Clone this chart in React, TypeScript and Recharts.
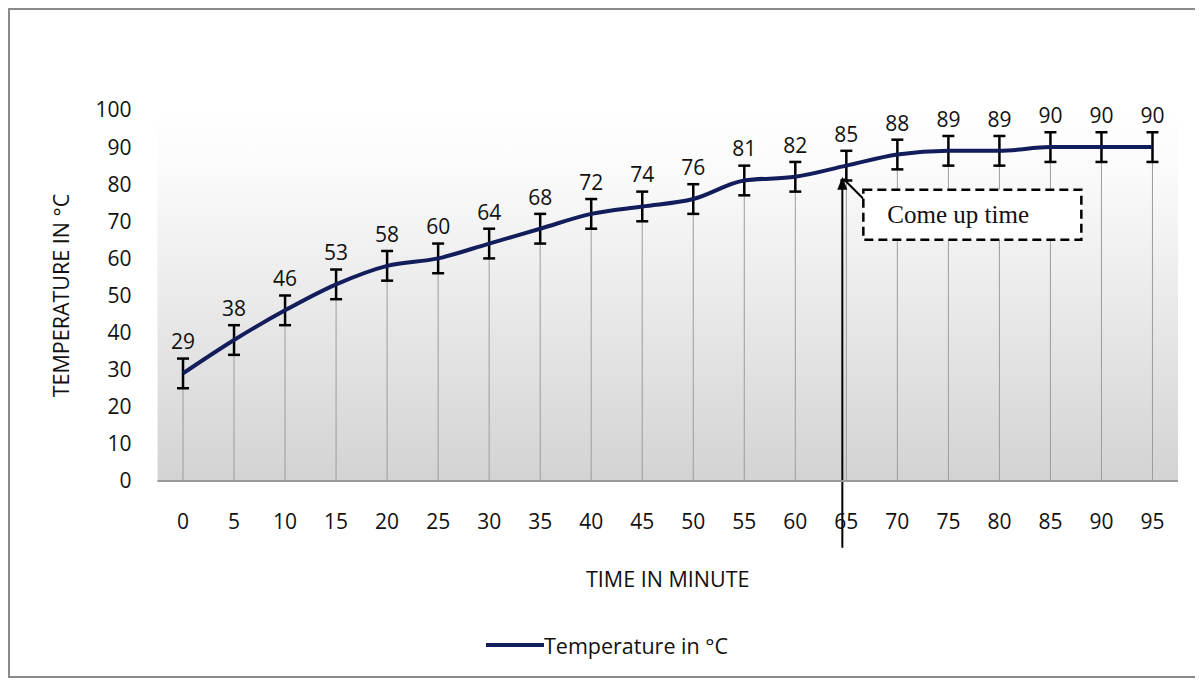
import React from 'react';
import {
  ComposedChart, Line, Bar, XAxis, YAxis, CartesianGrid, ErrorBar, LabelList, Legend,
  ReferenceLine, ReferenceDot,
} from 'recharts';

// time in minutes
const times = [0, 5, 10, 15, 20, 25, 30, 35, 40, 45, 50, 55, 60, 65, 70, 75, 80, 85, 90, 95];
// temperature in °C
const temperatures = [29, 38, 46, 53, 58, 60, 64, 68, 72, 74, 76, 81, 82, 85, 88, 89, 89, 90, 90, 90];
// +/- error
const errors = [4, 4, 4, 4, 4, 4, 4, 4, 4, 4, 4, 4, 4, 4, 4, 4, 4, 4, 4, 4];
const yTicks = [0, 10, 20, 30, 40, 50, 60, 70, 80, 90, 100];

const data = times.map((t, i) => ({ time: t, temp: temperatures[i], err: errors[i] }));

const FONT = '"Open Sans", sans-serif';
const NAVY = '#131d5c';
const TEXT = '#111';

const YTitle = (props: any) => {
  const { viewBox } = props;
  const x = viewBox.x + 40;
  const y = viewBox.y + viewBox.height / 2;
  return (
    <text x={x} y={y} transform={`rotate(-90 ${x} ${y})`} textAnchor="middle"
      dominantBaseline="central" fontFamily={FONT} fontSize={21.5} fill={TEXT}>
      TEMPERATURE IN °C
    </text>
  );
};

const XTitle = (props: any) => {
  const { viewBox } = props;
  return (
    <text x={viewBox.x + viewBox.width / 2} y={viewBox.y + 97} textAnchor="middle"
      dominantBaseline="central" fontFamily={FONT} fontSize={21.5} fill={TEXT}>
      TIME IN MINUTE
    </text>
  );
};

// vertical arrow pointing at the come-up point
const ArrowShape = (p: any) => {
  const x = p.x1 - 4;
  return (
    <g>
      <line x1={x} y1={p.y1} x2={x} y2={p.y2 + 8} stroke="#000" strokeWidth={2} />
      <polygon points={`${x},${p.y2} ${x - 5},${p.y2 + 13} ${x + 5},${p.y2 + 13}`} fill="#000" />
    </g>
  );
};

// callout box
const CalloutShape = (p: any) => {
  const cx = p.cx - 3;
  const cy = p.cy;
  return (
    <g>
      <line x1={cx} y1={cy + 2} x2={cx + 29} y2={cy + 31} stroke="#000" strokeWidth={2} />
      <rect x={cx + 20} y={cy + 13} width={218} height={50} fill="#fff" stroke="#000"
        strokeWidth={2.5} strokeDasharray="9 5" />
      <text x={cx + 44} y={cy + 38} dominantBaseline="central"
        fontFamily='"Liberation Serif", "DejaVu Serif", serif' fontSize={25} fill="#111">
        Come up time
      </text>
    </g>
  );
};

const LegendContent = () => (
  <div style={{ height: 30, display: 'flex', alignItems: 'center', justifyContent: 'center', paddingLeft: 16 }}>
    <div style={{ width: 58, height: 4, background: NAVY }} />
    <span style={{ fontFamily: FONT, fontSize: 21.5, color: TEXT }}>Temperature in °C</span>
  </div>
);

export default function App() {
  return (
    <div style={{ width: 1185, height: 666, border: '2px solid #8a8a8a', background: '#fff' }}>
      <ComposedChart width={1185} height={666} data={data}
        margin={{ top: 100, right: 17, left: 10, bottom: 16 }}>
        <defs>
          <linearGradient id="plotBg" x1="0" y1="0" x2="0" y2="1">
            <stop offset="0%" stopColor="#ffffff" />
            <stop offset="15%" stopColor="#fbfbfb" />
            <stop offset="100%" stopColor="#d3d3d3" />
          </linearGradient>
        </defs>
        <CartesianGrid horizontal={false} vertical={false} fill="url(#plotBg)" fillOpacity={1} />
        <XAxis dataKey="time" type="category" interval={0} height={149}
          axisLine={{ stroke: '#9a9a9a', strokeWidth: 2 }} tickLine={false} tickSize={0} tickMargin={33}
          tick={{ fontFamily: FONT, fontSize: 21, fill: TEXT }}
          label={(props: any) => <XTitle {...props} />} />
        <YAxis type="number" domain={[0, 100]} ticks={yTicks} interval={0} width={137.5}
          axisLine={false} tickLine={false} tickSize={0} tickMargin={26}
          tick={{ fontFamily: FONT, fontSize: 21, fill: TEXT }}
          label={(props: any) => <YTitle {...props} />} />
        <Legend verticalAlign="bottom" content={() => <LegendContent />} />
        <Bar dataKey="temp" barSize={1} fill="#9c9c9c" isAnimationActive={false} legendType="none" />
        <ReferenceLine segment={[{ x: 65, y: -18 }, { x: 65, y: 82 }]} ifOverflow="visible"
          shape={(p: any) => <ArrowShape {...p} />} />
        <ReferenceDot x={65} y={82} ifOverflow="visible" shape={(p: any) => <CalloutShape {...p} />} />
        <Line type="monotone" dataKey="temp" name="Temperature in °C" stroke={NAVY} strokeWidth={4}
          dot={false} activeDot={false} isAnimationActive={false}>
          <ErrorBar dataKey="err" width={6} stroke="#000" strokeWidth={2.5} direction="y" />
          <LabelList dataKey="temp" position="top" offset={24}
            style={{ fontFamily: FONT, fontSize: 21, fill: TEXT }} />
        </Line>
      </ComposedChart>
    </div>
  );
}
